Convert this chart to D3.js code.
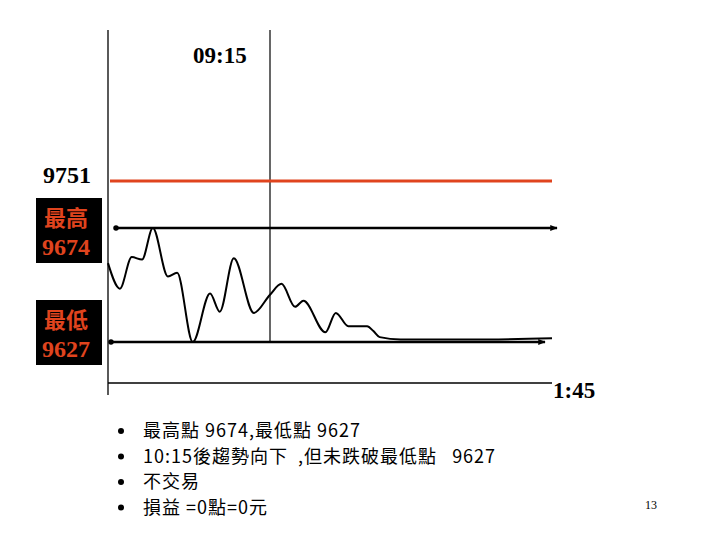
<!DOCTYPE html>
<html>
<head>
<meta charset="utf-8">
<script src="https://cdn.jsdelivr.net/npm/d3@7"></script>
<style>
  body { margin: 0; background: #fff; }
  svg { display: block; }
</style>
</head>
<body>
<div id="chart"></div>
<script>
// minutes after the 08:45 open, and the index level
const minutesFromOpen = [0, 2.2, 4.4, 6.3, 8.3, 11.1, 12.8, 15.7, 18.9, 20.7, 23.3, 27.0, 30,
  41, 54, 62, 83, 93, 105, 123, 129, 135, 155, 222, 300];
const prices = [9659.5, 9649, 9662, 9661, 9674, 9654, 9655.5, 9627, 9647, 9639.5, 9661.5, 9639, 9646.5,
  9651, 9641.5, 9644, 9631, 9639, 9633.5, 9633.5, 9631.5, 9629, 9628, 9628, 9628.5];

const stopLevel = 9751;
const highLevel = 9674;
const lowLevel = 9627;

const timeLabels = ['09:15', '1:45'];
const bullets = [
  '最高點 9674,最低點 9627',
  '10:15後趨勢向下  ,但未跌破最低點   9627',
  '不交易',
  '損益 =0點=0元'
];
const pageNumber = '13';

const W = 720, H = 540;
const red = '#e0441e';
const serif = '"Liberation Serif", "Times New Roman", serif';
const cjk = '"Noto Sans CJK TC", "Noto Sans CJK SC", sans-serif';

const svg = d3.select('#chart').append('svg')
  .attr('width', W).attr('height', H);

// schematic axes: open -> 09:15 -> 13:45 and low -> high -> stop
const xScale = d3.scaleLinear().domain([0, 30, 300]).range([108, 270, 552]);
const yScale = d3.scaleLinear().domain([lowLevel, highLevel, stopLevel]).range([342, 228, 181]);

const defs = svg.append('defs');
defs.append('marker')
  .attr('id', 'arrow')
  .attr('viewBox', '0 0 10 10')
  .attr('refX', 9).attr('refY', 5)
  .attr('markerWidth', 3).attr('markerHeight', 3)
  .attr('orient', 'auto')
  .append('path').attr('d', 'M0,1 L10,5 L0,9 Z').attr('fill', '#000');
defs.append('marker')
  .attr('id', 'dot')
  .attr('viewBox', '0 0 10 10')
  .attr('refX', 5).attr('refY', 5)
  .attr('markerWidth', 2.2).attr('markerHeight', 2.2)
  .append('circle').attr('cx', 5).attr('cy', 5).attr('r', 5).attr('fill', '#000');

// y axis line and x axis line
svg.append('line')
  .attr('x1', xScale(0)).attr('x2', xScale(0))
  .attr('y1', 30).attr('y2', 395)
  .attr('stroke', '#000').attr('stroke-width', 1.3);
svg.append('line')
  .attr('x1', xScale(0)).attr('x2', xScale(300))
  .attr('y1', 383).attr('y2', 383)
  .attr('stroke', '#000').attr('stroke-width', 1.3);

// 09:15 marker
svg.append('line')
  .attr('x1', xScale(30)).attr('x2', xScale(30))
  .attr('y1', 30).attr('y2', yScale(lowLevel))
  .attr('stroke', '#000').attr('stroke-width', 1.2);

// stop level
svg.append('line')
  .attr('x1', xScale(0) + 2).attr('x2', xScale(300))
  .attr('y1', yScale(stopLevel)).attr('y2', yScale(stopLevel))
  .attr('stroke', red).attr('stroke-width', 3);

// high / low lines
svg.append('line')
  .attr('x1', xScale(0) + 8).attr('x2', xScale(300) + 5)
  .attr('y1', yScale(highLevel)).attr('y2', yScale(highLevel))
  .attr('stroke', '#000').attr('stroke-width', 2.5)
  .attr('marker-start', 'url(#dot)').attr('marker-end', 'url(#arrow)');
svg.append('line')
  .attr('x1', xScale(0) + 3).attr('x2', xScale(300) - 7)
  .attr('y1', yScale(lowLevel)).attr('y2', yScale(lowLevel))
  .attr('stroke', '#000').attr('stroke-width', 2.5)
  .attr('marker-start', 'url(#dot)').attr('marker-end', 'url(#arrow)');

// price curve
const points = minutesFromOpen.map((m, i) => [m, prices[i]]);
const line = d3.line()
  .x((d) => xScale(d[0]))
  .y((d) => yScale(d[1]))
  .curve(d3.curveMonotoneX);
svg.append('path')
  .datum(points)
  .attr('d', line)
  .attr('fill', 'none')
  .attr('stroke', '#000')
  .attr('stroke-width', 2);

// level labels
svg.append('text')
  .attr('x', 43).attr('y', yScale(stopLevel) + 2)
  .style('font-family', serif).style('font-weight', 'bold').style('font-size', '24px')
  .text(stopLevel);

const boxes = [
  { y: 198, name: '最高', value: highLevel },
  { y: 300, name: '最低', value: lowLevel }
];
boxes.forEach((b) => {
  svg.append('rect')
    .attr('x', 36).attr('y', b.y).attr('width', 66).attr('height', 65)
    .attr('fill', '#000');
  svg.append('text')
    .attr('x', 44).attr('y', b.y + 28)
    .style('font-family', cjk).style('font-weight', 'bold')
    .style('font-size', '22px').style('fill', red)
    .text(b.name);
  svg.append('text')
    .attr('x', 42).attr('y', b.y + 57)
    .style('font-family', serif).style('font-weight', 'bold')
    .style('font-size', '24px').style('fill', red)
    .text(b.value);
});

// time labels
svg.append('text')
  .attr('x', 193).attr('y', 63)
  .style('font-family', serif).style('font-weight', 'bold').style('font-size', '23px')
  .text(timeLabels[0]);
svg.append('text')
  .attr('x', 553).attr('y', 398)
  .style('font-family', serif).style('font-weight', 'bold').style('font-size', '23px')
  .text(timeLabels[1]);

// bullet list
bullets.forEach((t, i) => {
  const y = 437 + i * 25.5;
  svg.append('circle')
    .attr('cx', 121).attr('cy', y - 6).attr('r', 3)
    .attr('fill', '#000');
  svg.append('text')
    .attr('x', 143).attr('y', y)
    .style('font-family', cjk).style('font-size', '18px')
    .style('letter-spacing', '1px')
    .style('white-space', 'pre')
    .attr('xml:space', 'preserve')
    .text(t);
});

svg.append('text')
  .attr('x', 645).attr('y', 509)
  .style('font-family', serif).style('font-size', '12px')
  .text(pageNumber);
</script>
</body>
</html>
